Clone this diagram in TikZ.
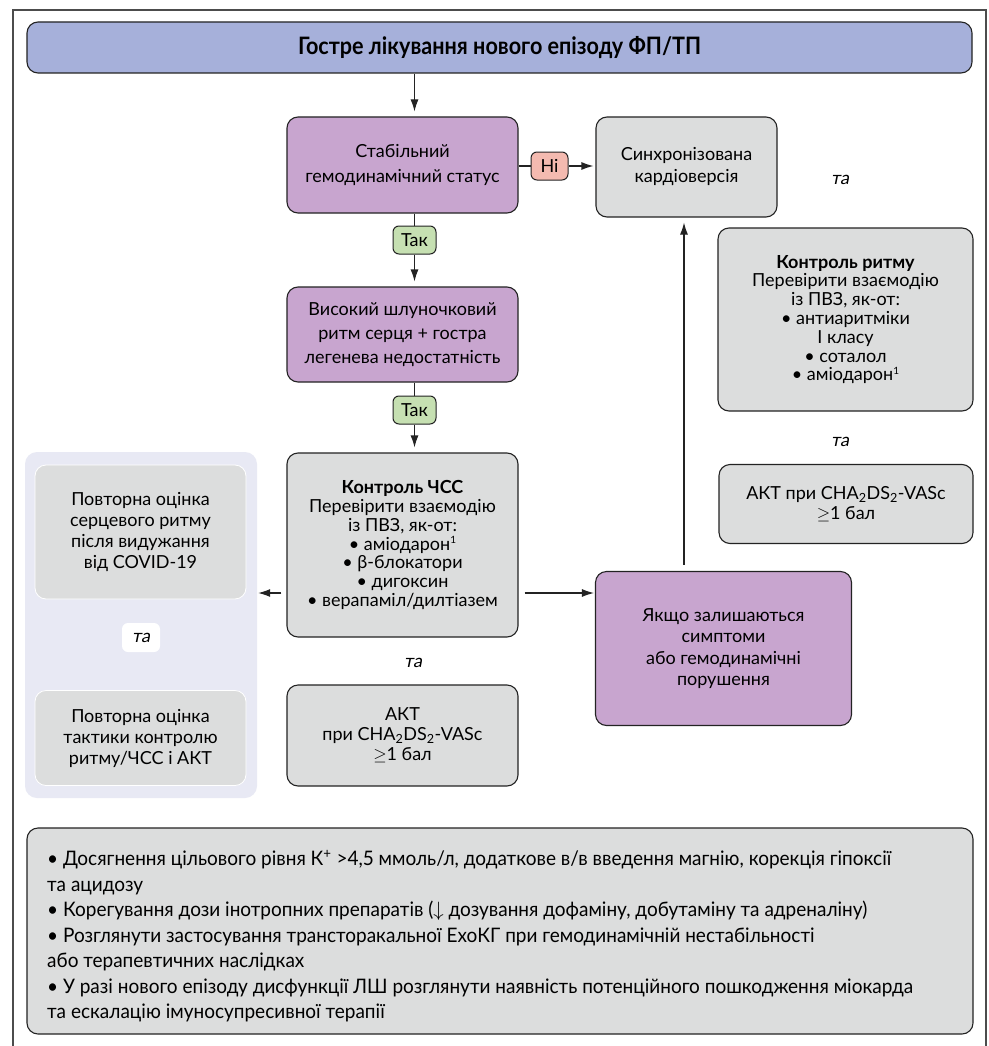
\documentclass[tikz,border=0pt]{standalone}
\usepackage{fontspec}
\setmainfont{Lato}
\newfontfamily\condfont[FakeStretch=0.95]{Lato}
\newfontfamily\titlefont[FakeStretch=0.9]{Lato}
\newfontfamily\slfont[FakeSlant=0.2]{Lato}
\usetikzlibrary{arrows.meta}
\definecolor{titlebg}{RGB}{166,176,218}
\definecolor{purp}{RGB}{200,165,207}
\definecolor{grayb}{RGB}{220,221,221}
\definecolor{nobg}{RGB}{244,186,176}
\definecolor{yesbg}{RGB}{198,224,178}
\definecolor{panelbg}{RGB}{232,233,244}
\definecolor{edge}{RGB}{35,35,35}
\newcommand{\supone}{\raisebox{0.75ex}{\fontsize{10}{10}\selectfont 1}}
\tikzset{
  box/.style={draw=edge, line width=1.1pt, rounded corners=11pt, align=center, inner sep=0pt, font=\fontsize{18}{21}\selectfont},
  pbox/.style={box, fill=purp},
  gbox/.style={box, fill=grayb},
  lbox/.style={box, fill=grayb, draw=white, line width=0.8pt},
  lbl/.style={draw=edge, line width=1pt, rounded corners=6pt, inner sep=0pt, minimum height=28pt, font=\fontsize{18}{20}\selectfont},
  arr/.style={-{Latex[length=12pt,width=8pt]}, line width=1.1pt, draw=edge},
  conn/.style={line width=1.1pt, draw=edge},
  andtxt/.style={inner sep=1pt, font=\slfont\fontsize{18}{20}\selectfont},
  frame/.style={line width=1.2pt, draw=black!70},
}
\begin{document}
\begin{tikzpicture}[x=1pt,y=-1pt]
\useasboundingbox (0,0) rectangle (988,1046);
\fill[white] (0,0) rectangle (988,1046);
% frame
\draw[frame] (13,1046) -- (13,10) -- (986,10) -- (986,1046);
% title
\node[box, fill=titlebg, minimum width=945pt, minimum height=51pt, font=\titlefont\bfseries\fontsize{24}{28}\selectfont] (title) at (499.5,47.5) {Гостре лікування нового епізоду ФП/ТП};
% main column
\node[pbox, minimum width=231pt, minimum height=96pt, font=\fontsize{18}{25}\selectfont] (stab) at (402.5,165) {Стабільний\\гемодинамічний статус};
\node[lbl, fill=nobg, minimum width=37pt] (ni) at (549.5,166) {Ні};
\node[gbox, minimum width=181pt, minimum height=100pt, font=\fontsize{18}{22}\selectfont] (cardio) at (686.5,167) {Синхронізована\\кардіоверсія};
\node[lbl, fill=yesbg, minimum width=43pt] (tak1) at (414.5,240) {Так};
\node[pbox, minimum width=231pt, minimum height=95pt, font=\fontsize{18}{24}\selectfont] (high) at (402.5,334.5) {Високий шлуночковий\\ритм серця + гостра\\легенева недостатність};
\node[lbl, fill=yesbg, minimum width=43pt] (tak2) at (414.5,410) {Так};
\node[gbox, minimum width=231pt, minimum height=184pt, font=\fontsize{18}{18.8}\selectfont] (hr) at (402.5,545) {{\bfseries Контроль ЧСС}\\Перевірити взаємодію\\із ПВЗ, як-от:\\• аміодарон\supone\\• β-блокатори\\• дигоксин\\• верапаміл/дилтіазем};
\node[andtxt] (ta3) at (413,663) {та};
\node[gbox, minimum width=231pt, minimum height=101pt, font=\fontsize{18}{20}\selectfont] (akt1) at (402.5,735.5) {АКТ\\при CHA\textsubscript{2}DS\textsubscript{2}-VASc\\$\geq$1 бал};
% right column
\node[andtxt] (ta1) at (840,180) {та};
\node[gbox, minimum width=255pt, minimum height=183pt, font=\fontsize{18}{18.8}\selectfont] (rhythm) at (845.5,319.5) {{\bfseries Контроль ритму}\\Перевірити взаємодію\\із ПВЗ, як-от:\\• антиаритміки\\І класу\\• соталол\\• аміодарон\supone};
\node[andtxt] (ta2) at (840,442) {та};
\node[gbox, minimum width=254pt, minimum height=79pt, font=\fontsize{18}{20}\selectfont] (akt2) at (846,504) {АКТ при CHA\textsubscript{2}DS\textsubscript{2}-VASc\\$\geq$1 бал};
\node[pbox, minimum width=256pt, minimum height=154pt, font=\fontsize{18}{21.5}\selectfont] (yak) at (723.5,648.5) {Якщо залишаються\\симптоми\\або гемодинамічні\\порушення};
% left panel
\node[fill=panelbg, rounded corners=12pt, minimum width=232pt, minimum height=346pt, inner sep=0pt] (panel) at (141,625) {};
\node[lbox, minimum width=211pt, minimum height=134pt, font=\fontsize{18}{21}\selectfont] (reA) at (140.5,532) {Повторна оцінка\\серцевого ритму\\після видужання\\від COVID-19};
\node[fill=white, rounded corners=6pt, minimum width=38pt, minimum height=29pt, inner sep=0pt, font=\slfont\fontsize{18}{20}\selectfont] (ta4) at (141,637.5) {та};
\node[lbox, minimum width=211pt, minimum height=95pt, font=\fontsize{18}{21}\selectfont] (reB) at (140.5,738) {Повторна оцінка\\тактики контролю\\ритму/ЧСС і АКТ};
% notes
\node[gbox, minimum width=946pt, minimum height=206pt] (notes) at (500,931) {};
\node[anchor=west, align=left, inner sep=0pt, font=\condfont\fontsize{20}{25.5}\selectfont] (notestxt) at (47,936) {• Досягнення цільового рівня К\textsuperscript{+} >4,5 ммоль/л, додаткове в/в введення магнію, корекція гіпоксії\\та ацидозу\\• Корегування дози інотропних препаратів ($\downarrow$ дозування дофаміну, добутаміну та адреналіну)\\• Розглянути застосування трансторакальної ЕхоКГ при гемодинамічній нестабільності\\або терапевтичних наслідках\\• У разі нового епізоду дисфункції ЛШ розглянути наявність потенційного пошкодження міокарда\\та ескалацію імуносупресивної терапії};
% connectors
\coordinate (ax) at (414.5,0);
\coordinate (hy) at (0,593);
\coordinate (upx) at (684,0);
\draw[arr, shorten >=5pt] (title.south -| ax) -- (stab.north -| ax);
\draw[conn] (stab.south -| ax) -- (tak1.north);
\draw[arr, shorten >=5pt] (tak1.south) -- (high.north -| ax);
\draw[conn] (high.south -| ax) -- (tak2.north);
\draw[arr, shorten >=5pt] (tak2.south) -- (hr.north -| ax);
\draw[conn] (stab.east |- ni) -- (ni.west);
\draw[arr, shorten >=2pt] (ni.east) -- (cardio.west |- ni);
\draw[arr, shorten <=6pt, shorten >=1pt] (hr.east |- hy) -- (yak.west |- hy);
\draw[arr, shorten <=5pt, shorten >=1pt] (hr.west |- hy) -- (panel.east |- hy);
\draw[arr, shorten <=6pt, shorten >=5pt] (yak.north -| upx) -- (cardio.south -| upx);
\end{tikzpicture}
\end{document}
